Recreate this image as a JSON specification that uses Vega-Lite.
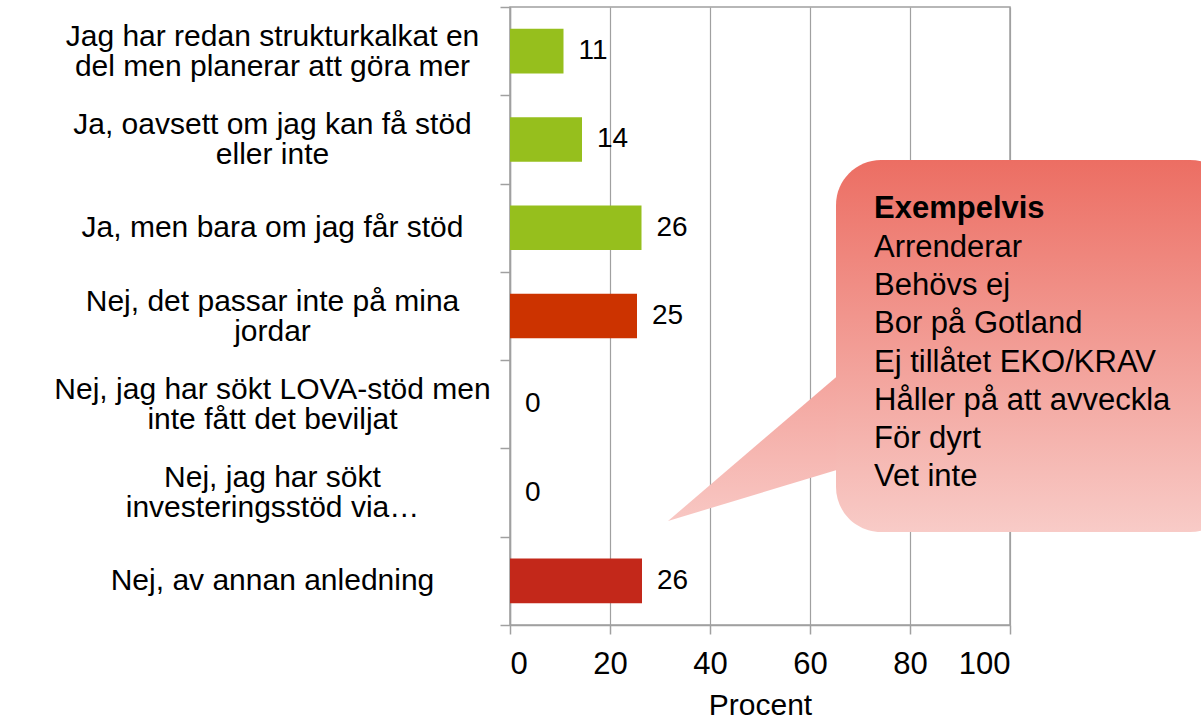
{
  "$schema": "https://vega.github.io/schema/vega-lite/v6.json",
  "width": 500,
  "height": 618,
  "autosize": {"type": "none"},
  "padding": {"left": 510, "top": 7, "right": 191, "bottom": 96},
  "background": "white",
  "config": {"font": "Liberation Sans", "view": {"stroke": "#a0a0a0", "strokeWidth": 1.5}},
  "datasets": {
    "svar": [
      {"svar": "Jag har redan strukturkalkat en|del men planerar att göra mer", "procent": 10.7},
      {"svar": "Ja, oavsett om jag kan få stöd|eller inte", "procent": 14.4},
      {"svar": "Ja, men bara om jag får stöd", "procent": 26.3},
      {"svar": "Nej, det passar inte på mina|jordar", "procent": 25.4},
      {"svar": "Nej, jag har sökt LOVA-stöd men|inte fått det beviljat", "procent": 0},
      {"svar": "Nej, jag har sökt|investeringsstöd via…", "procent": 0},
      {"svar": "Nej, av annan anledning", "procent": 26.4}
    ]
  },
  "layer": [
    {
      "data": {"name": "svar"},
      "mark": {"type": "bar", "height": 44.6},
      "encoding": {
        "y": {
          "field": "svar", "type": "nominal", "sort": null,
          "scale": {"paddingInner": 0, "paddingOuter": 0},
          "axis": {
            "title": null,
            "labelExpr": "datum.value == null ? '' : split(datum.value, '|')",
            "labelFontSize": 30,
            "labelLineHeight": 30,
            "labelLimit": 700,
            "labelColor": "black",
            "labelAlign": "center",
            "labelBaseline": {"condition": {"test": "datum.value != null && indexof(datum.value, '|') >= 0", "value": "line-bottom"}, "value": "middle"},
            "labelPadding": 228,
            "tickSize": 10,
            "tickBand": "extent",
            "tickColor": "#a0a0a0",
            "tickWidth": 1.5,
            "domainColor": "#a0a0a0",
            "domainWidth": 1.5
          }
        },
        "x": {
          "field": "procent", "type": "quantitative",
          "scale": {"domain": [0, 100]},
          "axis": {
            "orient": "bottom",
            "values": [0, 20, 40, 60, 80, 100],
            "title": "Procent",
            "grid": true,
            "gridColor": "#a0a0a0",
            "gridWidth": 1.2,
            "labelFontSize": 31,
            "labelColor": "black",
            "labelPadding": 15,
            "titleFontSize": 30,
            "titleFontWeight": "normal",
            "titleColor": "black",
            "titlePadding": 11,
            "tickSize": 9,
            "tickColor": "#a0a0a0",
            "tickWidth": 1.5,
            "domainColor": "#a0a0a0",
            "domainWidth": 1.5
          }
        },
        "color": {
          "field": "svar", "type": "nominal", "legend": null, "sort": null,
          "scale": {
            "domain": [
              "Jag har redan strukturkalkat en|del men planerar att göra mer",
              "Ja, oavsett om jag kan få stöd|eller inte",
              "Ja, men bara om jag får stöd",
              "Nej, det passar inte på mina|jordar",
              "Nej, jag har sökt LOVA-stöd men|inte fått det beviljat",
              "Nej, jag har sökt|investeringsstöd via…",
              "Nej, av annan anledning"
            ],
            "range": ["#96BF1D", "#96BF1D", "#96BF1D", "#CC3300", "#CC3300", "#C3281A", "#C3281A"]
          }
        }
      }
    },
    {
      "data": {"name": "svar"},
      "mark": {"type": "text", "align": "left", "baseline": "middle", "dx": 15, "fontSize": 28, "color": "black"},
      "encoding": {
        "y": {"field": "svar", "type": "nominal", "sort": null, "scale": {"paddingInner": 0, "paddingOuter": 0}, "axis": null},
        "x": {"field": "procent", "type": "quantitative"},
        "text": {"field": "procent", "type": "quantitative", "format": ".0f"}
      }
    },
    {
      "data": {"values": [
        {"px": 31.6, "ylo": 5.822, "yhi": 5.822},
        {"px": 68, "ylo": 4.057, "yhi": 5.198}
      ]},
      "mark": {
        "type": "area", "orient": "vertical",
        "fill": {"gradient": "linear", "x1": 0, "y1": 0, "x2": 0, "y2": 1,
          "stops": [{"offset": 0, "color": "#F3A19A"}, {"offset": 1, "color": "#F8C7C3"}]}
      },
      "encoding": {
        "x": {"field": "px", "type": "quantitative"},
        "y": {"field": "ylo", "type": "quantitative", "scale": {"domain": [0, 7], "reverse": true, "nice": false, "zero": false}, "axis": null},
        "y2": {"field": "yhi"}
      }
    },
    {
      "data": {"values": [{}]},
      "mark": {
        "type": "rect", "cornerRadius": 45,
        "fill": {"gradient": "linear", "x1": 0, "y1": 0, "x2": 0, "y2": 1,
          "stops": [{"offset": 0, "color": "#EC6E63"}, {"offset": 1, "color": "#F8CBC7"}]}
      },
      "encoding": {
        "x": {"datum": 65.2, "type": "quantitative"},
        "x2": {"datum": 145},
        "y": {"datum": 1.733, "type": "quantitative", "scale": {"domain": [0, 7], "reverse": true, "nice": false, "zero": false}, "axis": null},
        "y2": {"datum": 5.947}
      }
    },
    {
      "data": {"values": [{}]},
      "mark": {"type": "text", "align": "left", "baseline": "alphabetic", "fontSize": 31, "fontWeight": "bold", "color": "black", "text": "Exempelvis"},
      "encoding": {
        "x": {"datum": 72.8, "type": "quantitative"},
        "y": {"datum": 2.39, "type": "quantitative", "scale": {"domain": [0, 7], "reverse": true, "nice": false, "zero": false}, "axis": null}
      }
    },
    {
      "data": {"values": [{}]},
      "mark": {
        "type": "text", "align": "left", "baseline": "alphabetic", "fontSize": 31, "lineHeight": 38.2, "color": "black",
        "text": ["Arrenderar", "Behövs ej", "Bor på Gotland", "Ej tillåtet EKO/KRAV", "Håller på att avveckla", "För dyrt", "Vet inte"]
      },
      "encoding": {
        "x": {"datum": 72.8, "type": "quantitative"},
        "y": {"datum": 2.832, "type": "quantitative", "scale": {"domain": [0, 7], "reverse": true, "nice": false, "zero": false}, "axis": null}
      }
    }
  ],
  "resolve": {"scale": {"y": "independent"}, "axis": {"y": "independent"}}
}
